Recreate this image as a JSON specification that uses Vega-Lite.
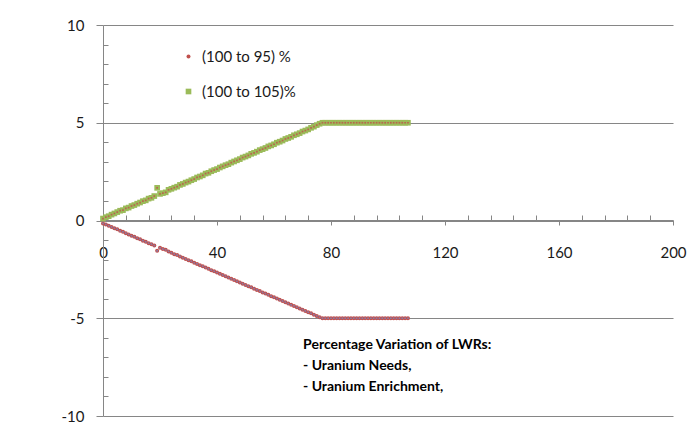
{
  "$schema": "https://vega.github.io/schema/vega-lite/v6.json",
  "width": 570,
  "height": 391,
  "autosize": {"type": "none"},
  "padding": {"left": 103, "top": 25, "right": 27, "bottom": 9},
  "background": "white",
  "config": {"view": {"stroke": null}, "font": "Lato"},
  "datasets": {
    "pts": [
      {"s":"(100 to 95) %","x":0,"y":-0.15},{"s":"(100 to 95) %","x":1,"y":-0.2},{"s":"(100 to 95) %","x":2,"y":-0.27},{"s":"(100 to 95) %","x":3,"y":-0.33},{"s":"(100 to 95) %","x":4,"y":-0.4},{"s":"(100 to 95) %","x":5,"y":-0.45},{"s":"(100 to 95) %","x":6,"y":-0.53},{"s":"(100 to 95) %","x":7,"y":-0.58},{"s":"(100 to 95) %","x":8,"y":-0.65},{"s":"(100 to 95) %","x":9,"y":-0.71},
      {"s":"(100 to 95) %","x":10,"y":-0.78},{"s":"(100 to 95) %","x":11,"y":-0.83},{"s":"(100 to 95) %","x":12,"y":-0.91},{"s":"(100 to 95) %","x":13,"y":-0.96},{"s":"(100 to 95) %","x":14,"y":-1.03},{"s":"(100 to 95) %","x":15,"y":-1.09},{"s":"(100 to 95) %","x":16,"y":-1.16},{"s":"(100 to 95) %","x":17,"y":-1.21},{"s":"(100 to 95) %","x":18,"y":-1.28},{"s":"(100 to 95) %","x":19,"y":-1.55},
      {"s":"(100 to 95) %","x":20,"y":-1.4},{"s":"(100 to 95) %","x":21,"y":-1.46},{"s":"(100 to 95) %","x":22,"y":-1.5},{"s":"(100 to 95) %","x":23,"y":-1.58},{"s":"(100 to 95) %","x":24,"y":-1.65},{"s":"(100 to 95) %","x":25,"y":-1.72},{"s":"(100 to 95) %","x":26,"y":-1.77},{"s":"(100 to 95) %","x":27,"y":-1.84},{"s":"(100 to 95) %","x":28,"y":-1.9},{"s":"(100 to 95) %","x":29,"y":-1.97},
      {"s":"(100 to 95) %","x":30,"y":-2.03},{"s":"(100 to 95) %","x":31,"y":-2.09},{"s":"(100 to 95) %","x":32,"y":-2.16},{"s":"(100 to 95) %","x":33,"y":-2.22},{"s":"(100 to 95) %","x":34,"y":-2.29},{"s":"(100 to 95) %","x":35,"y":-2.34},{"s":"(100 to 95) %","x":36,"y":-2.41},{"s":"(100 to 95) %","x":37,"y":-2.47},{"s":"(100 to 95) %","x":38,"y":-2.54},{"s":"(100 to 95) %","x":39,"y":-2.6},
      {"s":"(100 to 95) %","x":40,"y":-2.66},{"s":"(100 to 95) %","x":41,"y":-2.73},{"s":"(100 to 95) %","x":42,"y":-2.79},{"s":"(100 to 95) %","x":43,"y":-2.85},{"s":"(100 to 95) %","x":44,"y":-2.92},{"s":"(100 to 95) %","x":45,"y":-2.98},{"s":"(100 to 95) %","x":46,"y":-3.04},{"s":"(100 to 95) %","x":47,"y":-3.11},{"s":"(100 to 95) %","x":48,"y":-3.17},{"s":"(100 to 95) %","x":49,"y":-3.23},
      {"s":"(100 to 95) %","x":50,"y":-3.3},{"s":"(100 to 95) %","x":51,"y":-3.36},{"s":"(100 to 95) %","x":52,"y":-3.42},{"s":"(100 to 95) %","x":53,"y":-3.49},{"s":"(100 to 95) %","x":54,"y":-3.55},{"s":"(100 to 95) %","x":55,"y":-3.61},{"s":"(100 to 95) %","x":56,"y":-3.68},{"s":"(100 to 95) %","x":57,"y":-3.74},{"s":"(100 to 95) %","x":58,"y":-3.8},{"s":"(100 to 95) %","x":59,"y":-3.87},
      {"s":"(100 to 95) %","x":60,"y":-3.93},{"s":"(100 to 95) %","x":61,"y":-3.99},{"s":"(100 to 95) %","x":62,"y":-4.06},{"s":"(100 to 95) %","x":63,"y":-4.12},{"s":"(100 to 95) %","x":64,"y":-4.18},{"s":"(100 to 95) %","x":65,"y":-4.25},{"s":"(100 to 95) %","x":66,"y":-4.31},{"s":"(100 to 95) %","x":67,"y":-4.37},{"s":"(100 to 95) %","x":68,"y":-4.44},{"s":"(100 to 95) %","x":69,"y":-4.5},
      {"s":"(100 to 95) %","x":70,"y":-4.56},{"s":"(100 to 95) %","x":71,"y":-4.63},{"s":"(100 to 95) %","x":72,"y":-4.69},{"s":"(100 to 95) %","x":73,"y":-4.75},{"s":"(100 to 95) %","x":74,"y":-4.82},{"s":"(100 to 95) %","x":75,"y":-4.88},{"s":"(100 to 95) %","x":76,"y":-4.95},{"s":"(100 to 95) %","x":77,"y":-5.0},{"s":"(100 to 95) %","x":78,"y":-5.0},{"s":"(100 to 95) %","x":79,"y":-5.0},
      {"s":"(100 to 95) %","x":80,"y":-5.0},{"s":"(100 to 95) %","x":81,"y":-5.0},{"s":"(100 to 95) %","x":82,"y":-5.0},{"s":"(100 to 95) %","x":83,"y":-5.0},{"s":"(100 to 95) %","x":84,"y":-5.0},{"s":"(100 to 95) %","x":85,"y":-5.0},{"s":"(100 to 95) %","x":86,"y":-5.0},{"s":"(100 to 95) %","x":87,"y":-5.0},{"s":"(100 to 95) %","x":88,"y":-5.0},{"s":"(100 to 95) %","x":89,"y":-5.0},
      {"s":"(100 to 95) %","x":90,"y":-5.0},{"s":"(100 to 95) %","x":91,"y":-5.0},{"s":"(100 to 95) %","x":92,"y":-5.0},{"s":"(100 to 95) %","x":93,"y":-5.0},{"s":"(100 to 95) %","x":94,"y":-5.0},{"s":"(100 to 95) %","x":95,"y":-5.0},{"s":"(100 to 95) %","x":96,"y":-5.0},{"s":"(100 to 95) %","x":97,"y":-5.0},{"s":"(100 to 95) %","x":98,"y":-5.0},{"s":"(100 to 95) %","x":99,"y":-5.0},
      {"s":"(100 to 95) %","x":100,"y":-5.0},{"s":"(100 to 95) %","x":101,"y":-5.0},{"s":"(100 to 95) %","x":102,"y":-5.0},{"s":"(100 to 95) %","x":103,"y":-5.0},{"s":"(100 to 95) %","x":104,"y":-5.0},{"s":"(100 to 95) %","x":105,"y":-5.0},{"s":"(100 to 95) %","x":106,"y":-5.0},{"s":"(100 to 95) %","x":107,"y":-5.0},
      {"s":"(100 to 105)%","x":0,"y":0.1},{"s":"(100 to 105)%","x":1,"y":0.17},{"s":"(100 to 105)%","x":2,"y":0.22},{"s":"(100 to 105)%","x":3,"y":0.3},{"s":"(100 to 105)%","x":4,"y":0.36},{"s":"(100 to 105)%","x":5,"y":0.43},{"s":"(100 to 105)%","x":6,"y":0.5},{"s":"(100 to 105)%","x":7,"y":0.53},{"s":"(100 to 105)%","x":8,"y":0.62},{"s":"(100 to 105)%","x":9,"y":0.66},
      {"s":"(100 to 105)%","x":10,"y":0.74},{"s":"(100 to 105)%","x":11,"y":0.79},{"s":"(100 to 105)%","x":12,"y":0.86},{"s":"(100 to 105)%","x":13,"y":0.92},{"s":"(100 to 105)%","x":14,"y":0.99},{"s":"(100 to 105)%","x":15,"y":1.03},{"s":"(100 to 105)%","x":16,"y":1.12},{"s":"(100 to 105)%","x":17,"y":1.16},{"s":"(100 to 105)%","x":18,"y":1.25},{"s":"(100 to 105)%","x":19,"y":1.67},
      {"s":"(100 to 105)%","x":20,"y":1.36},{"s":"(100 to 105)%","x":21,"y":1.4},{"s":"(100 to 105)%","x":22,"y":1.44},{"s":"(100 to 105)%","x":23,"y":1.57},{"s":"(100 to 105)%","x":24,"y":1.62},{"s":"(100 to 105)%","x":25,"y":1.68},{"s":"(100 to 105)%","x":26,"y":1.73},{"s":"(100 to 105)%","x":27,"y":1.82},{"s":"(100 to 105)%","x":28,"y":1.87},{"s":"(100 to 105)%","x":29,"y":1.94},
      {"s":"(100 to 105)%","x":30,"y":1.99},{"s":"(100 to 105)%","x":31,"y":2.06},{"s":"(100 to 105)%","x":32,"y":2.12},{"s":"(100 to 105)%","x":33,"y":2.2},{"s":"(100 to 105)%","x":34,"y":2.25},{"s":"(100 to 105)%","x":35,"y":2.31},{"s":"(100 to 105)%","x":36,"y":2.4},{"s":"(100 to 105)%","x":37,"y":2.44},{"s":"(100 to 105)%","x":38,"y":2.52},{"s":"(100 to 105)%","x":39,"y":2.58},
      {"s":"(100 to 105)%","x":40,"y":2.63},{"s":"(100 to 105)%","x":41,"y":2.71},{"s":"(100 to 105)%","x":42,"y":2.77},{"s":"(100 to 105)%","x":43,"y":2.83},{"s":"(100 to 105)%","x":44,"y":2.88},{"s":"(100 to 105)%","x":45,"y":2.96},{"s":"(100 to 105)%","x":46,"y":3.02},{"s":"(100 to 105)%","x":47,"y":3.08},{"s":"(100 to 105)%","x":48,"y":3.14},{"s":"(100 to 105)%","x":49,"y":3.22},
      {"s":"(100 to 105)%","x":50,"y":3.27},{"s":"(100 to 105)%","x":51,"y":3.33},{"s":"(100 to 105)%","x":52,"y":3.41},{"s":"(100 to 105)%","x":53,"y":3.46},{"s":"(100 to 105)%","x":54,"y":3.52},{"s":"(100 to 105)%","x":55,"y":3.6},{"s":"(100 to 105)%","x":56,"y":3.65},{"s":"(100 to 105)%","x":57,"y":3.71},{"s":"(100 to 105)%","x":58,"y":3.79},{"s":"(100 to 105)%","x":59,"y":3.84},
      {"s":"(100 to 105)%","x":60,"y":3.9},{"s":"(100 to 105)%","x":61,"y":3.98},{"s":"(100 to 105)%","x":62,"y":4.03},{"s":"(100 to 105)%","x":63,"y":4.09},{"s":"(100 to 105)%","x":64,"y":4.17},{"s":"(100 to 105)%","x":65,"y":4.22},{"s":"(100 to 105)%","x":66,"y":4.28},{"s":"(100 to 105)%","x":67,"y":4.36},{"s":"(100 to 105)%","x":68,"y":4.41},{"s":"(100 to 105)%","x":69,"y":4.47},
      {"s":"(100 to 105)%","x":70,"y":4.55},{"s":"(100 to 105)%","x":71,"y":4.6},{"s":"(100 to 105)%","x":72,"y":4.66},{"s":"(100 to 105)%","x":73,"y":4.74},{"s":"(100 to 105)%","x":74,"y":4.8},{"s":"(100 to 105)%","x":75,"y":4.88},{"s":"(100 to 105)%","x":76,"y":4.95},{"s":"(100 to 105)%","x":77,"y":5.0},{"s":"(100 to 105)%","x":78,"y":5.0},{"s":"(100 to 105)%","x":79,"y":5.0},
      {"s":"(100 to 105)%","x":80,"y":5.0},{"s":"(100 to 105)%","x":81,"y":5.0},{"s":"(100 to 105)%","x":82,"y":5.0},{"s":"(100 to 105)%","x":83,"y":5.0},{"s":"(100 to 105)%","x":84,"y":5.0},{"s":"(100 to 105)%","x":85,"y":5.0},{"s":"(100 to 105)%","x":86,"y":5.0},{"s":"(100 to 105)%","x":87,"y":5.0},{"s":"(100 to 105)%","x":88,"y":5.0},{"s":"(100 to 105)%","x":89,"y":5.0},
      {"s":"(100 to 105)%","x":90,"y":5.0},{"s":"(100 to 105)%","x":91,"y":5.0},{"s":"(100 to 105)%","x":92,"y":5.0},{"s":"(100 to 105)%","x":93,"y":5.0},{"s":"(100 to 105)%","x":94,"y":5.0},{"s":"(100 to 105)%","x":95,"y":5.0},{"s":"(100 to 105)%","x":96,"y":5.0},{"s":"(100 to 105)%","x":97,"y":5.0},{"s":"(100 to 105)%","x":98,"y":5.0},{"s":"(100 to 105)%","x":99,"y":5.0},
      {"s":"(100 to 105)%","x":100,"y":5.0},{"s":"(100 to 105)%","x":101,"y":5.0},{"s":"(100 to 105)%","x":102,"y":5.0},{"s":"(100 to 105)%","x":103,"y":5.0},{"s":"(100 to 105)%","x":104,"y":5.0},{"s":"(100 to 105)%","x":105,"y":5.0},{"s":"(100 to 105)%","x":106,"y":5.0},{"s":"(100 to 105)%","x":107,"y":5.0}
    ],
    "note": [
      {"t": ["Percentage Variation of LWRs:", "- Uranium Needs,", "- Uranium Enrichment,"]}
    ]
  },
  "layer": [
    {
      "data": {"name": "pts"},
      "mark": {"type": "point", "filled": true, "opacity": 1},
      "encoding": {
        "x": {
          "field": "x", "type": "quantitative",
          "scale": {"domain": [0, 200], "nice": false, "zero": false},
          "axis": {
            "title": null, "offset": -196, "tickCount": 100,
            "values": [0,8,16,24,32,40,48,56,64,72,80,88,96,104,112,120,128,136,144,152,160,168,176,184,192,200],
            "labelExpr": "datum.value % 40 === 0 ? '' + datum.value : ''",
            "labelOverlap": false,
            "tickSize": {"condition": {"test": "datum.value % 40 === 0", "value": 5}, "value": -5},
            "tickColor": "#868686", "domainColor": "#868686",
            "labelPadding": 20, "labelFontSize": 15, "labelColor": "#1a1a1a",
            "labelFlush": false, "grid": false
          }
        },
        "y": {
          "field": "y", "type": "quantitative",
          "scale": {"domain": [-10, 10], "nice": false},
          "axis": {
            "title": null, "tickCount": 100,
            "values": [-10,-9,-8,-7,-6,-5,-4,-3,-2,-1,0,1,2,3,4,5,6,7,8,9,10],
            "labelExpr": "datum.value % 5 === 0 ? '' + datum.value : ''",
            "labelOverlap": false,
            "tickSize": {"condition": {"test": "datum.value % 5 === 0", "value": 7}, "value": -5},
            "tickColor": "#868686", "domainColor": "#868686",
            "grid": true,
            "gridColor": {"condition": {"test": "datum.value % 5 === 0", "value": "#868686"}, "value": "transparent"},
            "labelPadding": 12, "labelFontSize": 15, "labelColor": "#1a1a1a", "labelFlush": false
          }
        },
        "color": {
          "field": "s", "type": "nominal",
          "scale": {"domain": ["(100 to 95) %", "(100 to 105)%"], "range": ["#C0504D", "#9BBB59"]},
          "legend": {
            "title": null, "orient": "none", "legendX": 78, "legendY": 24,
            "labelFontSize": 15, "labelColor": "#1a1a1a", "rowPadding": 19,
            "labelOffset": 6, "symbolSize": 20
          }
        },
        "shape": {
          "field": "s", "type": "nominal",
          "scale": {"domain": ["(100 to 95) %", "(100 to 105)%"], "range": ["circle", "square"]},
          "legend": null
        },
        "size": {
          "field": "s", "type": "nominal",
          "scale": {"domain": ["(100 to 95) %", "(100 to 105)%"], "range": [16, 32]},
          "legend": null
        }
      }
    },
    {
      "data": {"name": "pts"},
      "mark": {"type": "point", "filled": true, "shape": "square", "size": 3, "opacity": 0.8},
      "encoding": {
        "x": {"field": "x", "type": "quantitative"},
        "y": {"field": "y", "type": "quantitative"},
        "color": {"condition": {"test": "datum.s === '(100 to 105)%'", "value": "#C0504D"}, "value": "#7F84B8"}
      }
    },
    {
      "data": {"name": "note"},
      "mark": {"type": "text", "align": "left", "baseline": "top", "fontSize": 14, "fontWeight": "bold", "lineHeight": 21, "color": "#000000"},
      "encoding": {
        "x": {"datum": 70.2, "type": "quantitative"},
        "y": {"datum": -6.0, "type": "quantitative"},
        "text": {"field": "t"}
      }
    }
  ]
}
